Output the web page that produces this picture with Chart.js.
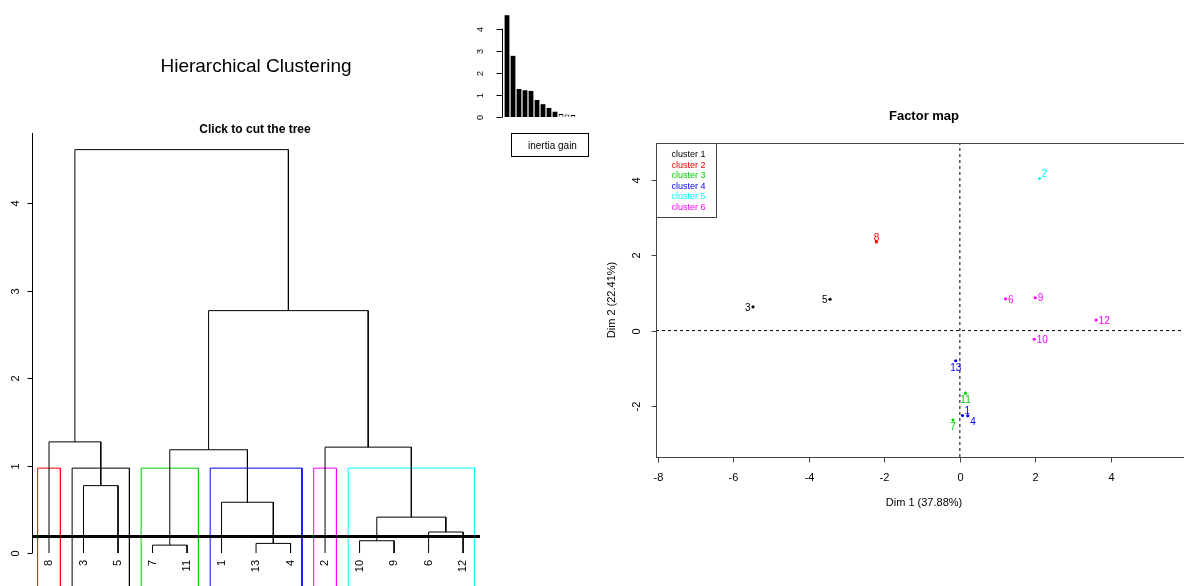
<!DOCTYPE html>
<html>
<head>
<meta charset="utf-8">
<script src="https://cdn.jsdelivr.net/npm/chart.js@4.4.1/dist/chart.umd.min.js"></script>
<style>
  body { margin: 0; width: 1184px; height: 586px; overflow: hidden; background: #fff; position: relative; }
  canvas { position: absolute; }
  #hc { left: 0; top: 0; }
  #gain { left: 460px; top: 0; }
  #fmap { left: 600px; top: 90px; }
</style>
</head>
<body>
<canvas id="hc" width="500" height="700"></canvas>
<canvas id="gain" width="140" height="170"></canvas>
<canvas id="fmap" width="640" height="460"></canvas>
<script>
// ---- dendrogram data ----
var leafLabels = ['8', '3', '5', '7', '11', '1', '13', '4', '2', '10', '9', '6', '12'];
// merge steps: negative = leaf position (1-based), positive = earlier step
var mergeLeft  = [-4, -7, -10, -12, 3, -6, -2, 1, -9, -1, 8, 10];
var mergeRight = [-5, -8, -11, -13, 4, 2, -3, 6, 5, 7, 9, 11];
var mergeHeights = [0.09, 0.11, 0.14, 0.24, 0.41, 0.58, 0.77, 1.18, 1.21, 1.27, 2.77, 4.61];
var cutHeight = 0.19;
var boxTop = 0.97;
var boxFirstLeaf = [1, 2, 4, 6, 9, 10];
var boxLastLeaf  = [1, 3, 5, 8, 9, 13];
var boxColors = ['#FF0000', '#000000', '#00CD00', '#0000FF', '#FF00FF', '#00FFFF'];
var dendroTicks = [0, 1, 2, 3, 4];

// ---- inertia gain data ----
var inertiaGain = [4.61, 2.77, 1.27, 1.21, 1.18, 0.77, 0.58, 0.41, 0.24, 0.14, 0.11, 0.09];
var filledBars = 9;
var gainTicks = [0, 1, 2, 3, 4];

// ---- factor map data ----
var individuals = ['1', '2', '3', '4', '5', '6', '7', '8', '9', '10', '11', '12', '13'];
var dim1 = [0.07, 2.11, -5.48, 0.21, -3.44, 1.21, -0.18, -2.21, 2.00, 1.97, 0.15, 3.61, -0.11];
var dim2 = [-2.25, 4.03, 0.63, -2.26, 0.83, 0.84, -2.37, 2.35, 0.87, -0.23, -1.66, 0.28, -0.80];
var clusterOf = [4, 5, 1, 4, 1, 6, 3, 2, 6, 6, 3, 6, 4];
var labelSide = ['ur', 'ur', 'l', 'br', 'l', 'r', 'b', 't', 'r', 'r', 'b', 'r', 'b'];
var clusterNames = ['cluster 1', 'cluster 2', 'cluster 3', 'cluster 4', 'cluster 5', 'cluster 6'];
var clusterColors = ['#000000', '#FF0000', '#00CD00', '#0000FF', '#00FFFF', '#FF00FF'];
var xTicks = [-8, -6, -4, -2, 0, 2, 4, 6];
var yTicks = [-2, 0, 2, 4];

var FONT = '"Liberation Sans", Arial, sans-serif';

function rotText(ctx, text, x, y, font, color, align) {
    ctx.save();
    ctx.translate(x, y);
    ctx.rotate(-Math.PI / 2);
    ctx.font = font;
    ctx.fillStyle = color;
    ctx.textAlign = align || 'center';
    ctx.textBaseline = 'middle';
    ctx.fillText(text, 0, 0);
    ctx.restore();
}

function seg(ctx, x1, y1, x2, y2) {
    ctx.beginPath();
    ctx.moveTo(x1, y1);
    ctx.lineTo(x2, y2);
    ctx.stroke();
}

// ================= dendrogram =================
var nodeX = [], nodeH = [], treeSets = [];
function nodePos(ref) {
    return ref < 0 ? { x: -ref, h: 0 } : { x: nodeX[ref - 1], h: nodeH[ref - 1] };
}
mergeHeights.forEach(function(h, i) {
    var a = nodePos(mergeLeft[i]), b = nodePos(mergeRight[i]);
    nodeX.push((a.x + b.x) / 2);
    nodeH.push(h);
    treeSets.push({
        data: [{x: a.x, y: a.h}, {x: a.x, y: h}, {x: b.x, y: h}, {x: b.x, y: b.h}],
        borderColor: '#000', borderWidth: 1, showLine: true, pointRadius: 0, order: 2, clip: false
    });
});
var boxSets = boxColors.map(function(col, i) {
    var l = boxFirstLeaf[i] - 0.33, r = boxLastLeaf[i] + 0.33;
    return {
        data: [{x: l, y: -0.7}, {x: l, y: boxTop}, {x: r, y: boxTop}, {x: r, y: -0.7}],
        borderColor: col, borderWidth: 1, showLine: true, pointRadius: 0, order: 3, clip: false
    };
});
var xMinHc = 0.536, xMaxHc = 13.49;
var cutSet = {
    data: [{x: xMinHc, y: cutHeight}, {x: xMaxHc, y: cutHeight}],
    borderColor: '#000', borderWidth: 3, showLine: true, pointRadius: 0, order: 1, clip: false
};

new Chart(document.getElementById('hc'), {
    type: 'scatter',
    data: { datasets: boxSets.concat(treeSets, [cutSet]) },
    options: {
        responsive: false, animation: false, events: [],
        layout: { padding: { left: 33, right: 20, top: 133, bottom: 147 } },
        plugins: { legend: { display: false }, tooltip: { enabled: false } },
        scales: {
            x: { type: 'linear', display: false, min: xMinHc, max: xMaxHc },
            y: { type: 'linear', display: false, min: 0, max: 4.8 }
        }
    },
    plugins: [{
        afterDraw: function(chart) {
            var ctx = chart.ctx, sx = chart.scales.x, sy = chart.scales.y;
            var ax = Math.round(chart.chartArea.left) - 0.5;
            ctx.save();
            ctx.strokeStyle = '#000';
            ctx.lineWidth = 1;
            seg(ctx, ax, sy.getPixelForValue(0), ax, chart.chartArea.top);
            dendroTicks.forEach(function(v) {
                var py = Math.round(sy.getPixelForValue(v)) + 0.5;
                seg(ctx, ax - 5, py, ax, py);
                rotText(ctx, String(v), ax - 17, py, '11px ' + FONT, '#000');
            });
            leafLabels.forEach(function(lab, i) {
                rotText(ctx, lab, sx.getPixelForValue(i + 1), sy.getPixelForValue(0) + 7, '11px ' + FONT, '#000', 'right');
            });
            ctx.fillStyle = '#000';
            ctx.textAlign = 'center';
            ctx.textBaseline = 'middle';
            ctx.font = '19px ' + FONT;
            ctx.fillText('Hierarchical Clustering', 256, 67);
            ctx.font = 'bold 12px ' + FONT;
            ctx.fillText('Click to cut the tree', 255, 130);
            ctx.restore();
        }
    }]
});

// ================= inertia gain =================
new Chart(document.getElementById('gain'), {
    type: 'bar',
    data: {
        labels: inertiaGain.map(function(v, i) { return String(i + 1); }),
        datasets: [{
            data: inertiaGain,
            backgroundColor: inertiaGain.map(function(v, i) { return i < filledBars ? '#000' : '#fff'; }),
            borderColor: '#000',
            borderWidth: inertiaGain.map(function(v, i) { return i < filledBars ? 0 : 1; }),
            barPercentage: 0.8,
            categoryPercentage: 1
        }]
    },
    options: {
        responsive: false, animation: false, events: [],
        layout: { padding: { left: 44, right: 24, top: 11, bottom: 53 } },
        plugins: { legend: { display: false }, tooltip: { enabled: false } },
        scales: {
            x: { display: false },
            y: { display: false, min: 0, max: 4.8 }
        }
    },
    plugins: [{
        afterDraw: function(chart) {
            var ctx = chart.ctx, sy = chart.scales.y;
            var ax = 42.5;
            ctx.save();
            ctx.strokeStyle = '#000';
            ctx.lineWidth = 1;
            seg(ctx, ax, sy.getPixelForValue(0), ax, sy.getPixelForValue(4));
            gainTicks.forEach(function(v) {
                var py = Math.round(sy.getPixelForValue(v)) + 0.5;
                seg(ctx, ax - 6, py, ax, py);
                rotText(ctx, String(v), 21, py, '9px ' + FONT, '#000');
            });
            ctx.strokeRect(51.5, 133.5, 77, 23);
            ctx.fillStyle = '#000';
            ctx.font = '10px ' + FONT;
            ctx.textAlign = 'left';
            ctx.textBaseline = 'middle';
            ctx.fillText('inertia gain', 68, 146);
            ctx.restore();
        }
    }]
});

// ================= factor map =================
var pointSets = clusterColors.map(function(col, c) {
    var pts = [];
    individuals.forEach(function(id, i) {
        if (clusterOf[i] === c + 1) pts.push({x: dim1[i], y: dim2[i]});
    });
    return { data: pts, pointRadius: 1.6, pointBackgroundColor: col, pointBorderWidth: 0, order: 1 };
});
var fmXMin = -8.05, fmXMax = 6.15, fmYMin = -3.35, fmYMax = 4.97;
var zeroSets = [
    { data: [{x: fmXMin, y: 0}, {x: fmXMax, y: 0}] },
    { data: [{x: 0, y: fmYMin}, {x: 0, y: fmYMax}] }
].map(function(d) {
    d.showLine = true; d.pointRadius = 0; d.borderColor = '#000'; d.borderWidth = 1;
    d.borderDash = [3, 3]; d.order = 2;
    return d;
});

new Chart(document.getElementById('fmap'), {
    type: 'scatter',
    data: { datasets: pointSets.concat(zeroSets) },
    options: {
        responsive: false, animation: false, events: [],
        layout: { padding: { left: 56, right: 48, top: 53, bottom: 93 } },
        plugins: { legend: { display: false }, tooltip: { enabled: false } },
        scales: {
            x: { type: 'linear', display: false, min: fmXMin, max: fmXMax },
            y: { type: 'linear', display: false, min: fmYMin, max: fmYMax }
        }
    },
    plugins: [{
        afterDraw: function(chart) {
            var ctx = chart.ctx, sx = chart.scales.x, sy = chart.scales.y, a = chart.chartArea;
            ctx.save();
            ctx.strokeStyle = '#444';
            ctx.lineWidth = 1;
            var L = Math.round(a.left) + 0.5, T = Math.round(a.top) + 0.5;
            var R = Math.round(a.right) + 0.5, B = Math.round(a.bottom) + 0.5;
            ctx.strokeRect(L, T, R - L, B - T);
            ctx.fillStyle = '#000';
            ctx.font = '11px ' + FONT;
            ctx.textAlign = 'center';
            ctx.textBaseline = 'middle';
            xTicks.forEach(function(v) {
                var px = Math.round(sx.getPixelForValue(v)) + 0.5;
                seg(ctx, px, B, px, B + 5);
                ctx.fillText(String(v), px, B + 20);
            });
            yTicks.forEach(function(v) {
                var py = Math.round(sy.getPixelForValue(v)) + 0.5;
                seg(ctx, L - 5, py, L, py);
                rotText(ctx, String(v), L - 20, py, '11px ' + FONT, '#000');
            });
            // point labels
            ctx.font = '10px ' + FONT;
            individuals.forEach(function(id, i) {
                var px = sx.getPixelForValue(dim1[i]), py = sy.getPixelForValue(dim2[i]);
                var side = labelSide[i], dx = 0, dy = 0;
                ctx.textAlign = 'center';
                if (side === 'r') { ctx.textAlign = 'left'; dx = 2.5; dy = 1; }
                else if (side === 'l') { ctx.textAlign = 'right'; dx = -2.5; dy = 1; }
                else if (side === 'b') { dy = 7; }
                else if (side === 't') { dy = -4; }
                else if (side === 'ur') { ctx.textAlign = 'left'; dx = 2; dy = -4; }
                else if (side === 'br') { ctx.textAlign = 'left'; dx = 2.5; dy = 6; }
                ctx.fillStyle = clusterColors[clusterOf[i] - 1];
                ctx.fillText(id, px + dx, py + dy);
            });
            // legend
            ctx.strokeStyle = '#444';
            ctx.strokeRect(L, T, 60, 74);
            ctx.font = '9px ' + FONT;
            ctx.textAlign = 'left';
            clusterNames.forEach(function(name, i) {
                ctx.fillStyle = clusterColors[i];
                ctx.fillText(name, L + 15, T + 11 + i * 10.6);
            });
            // titles
            ctx.fillStyle = '#000';
            ctx.textAlign = 'center';
            ctx.font = 'bold 13px ' + FONT;
            ctx.fillText('Factor map', 324, 26);
            ctx.font = '11px ' + FONT;
            ctx.fillText('Dim 1 (37.88%)', 324, 413);
            rotText(ctx, 'Dim 2 (22.41%)', 12, 210, '11px ' + FONT, '#000');
            ctx.restore();
        }
    }]
});
</script>
</body>
</html>
